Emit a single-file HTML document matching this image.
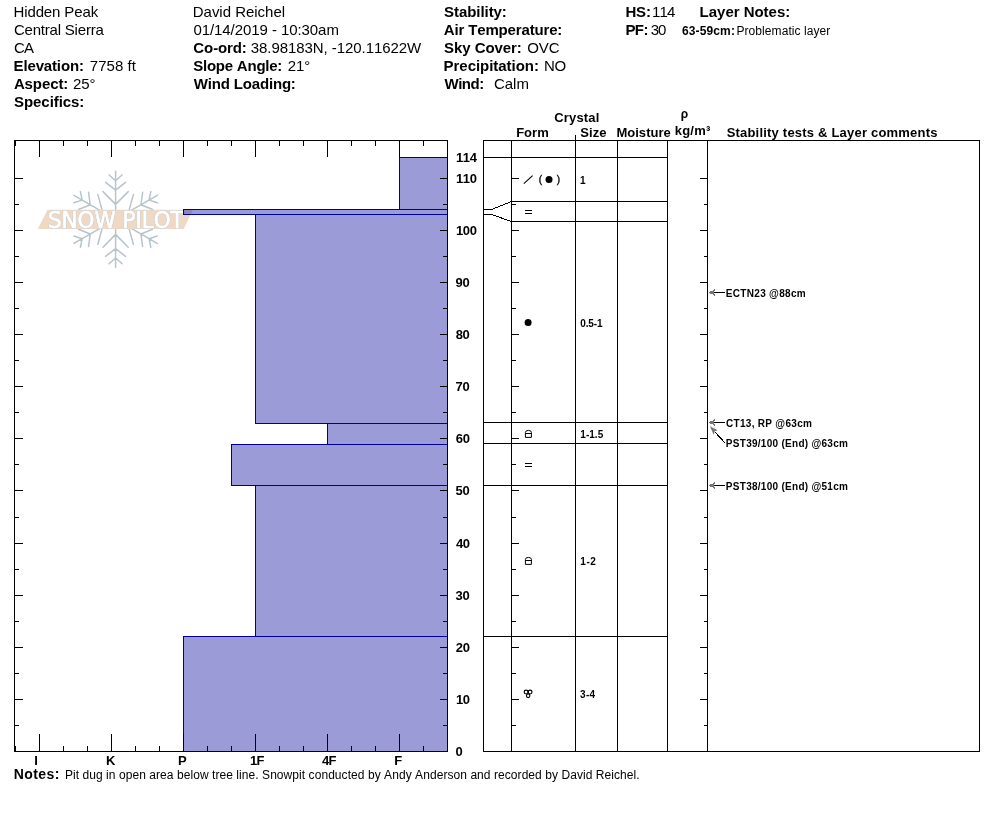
<!DOCTYPE html>
<html lang="en"><head><meta charset="utf-8"><title>Snow Pit Profile - Hidden Peak</title>
<style>html,body{margin:0;padding:0;background:#fff}body{width:994px;height:840px;overflow:hidden}svg{display:block}text{font-family:"Liberation Sans",sans-serif;font-kerning:none}</style></head><body>
<svg width="994" height="840" viewBox="0 0 994 840">
<rect width="994" height="840" fill="#fff"/>
<g>
<g transform="translate(115.6 219.4)" stroke="#b6c4cc" stroke-width="1.5" fill="none" stroke-linecap="round">
<path transform="rotate(0)" d="M0 0 V-48.1 M0 -38.6 L-6.5 -44.4 M0 -38.6 L6.5 -44.4 M0 -29.3 L-10.0 -37.0 M0 -29.3 L10.0 -37.0 M0 -15.0 L-12.6 -27.8 M0 -15.0 L12.6 -27.8"/>
<path transform="rotate(60)" d="M0 0 V-48.1 M0 -38.6 L-6.5 -44.4 M0 -38.6 L6.5 -44.4 M0 -29.3 L-10.0 -37.0 M0 -29.3 L10.0 -37.0 M0 -15.0 L-12.6 -27.8 M0 -15.0 L12.6 -27.8"/>
<path transform="rotate(120)" d="M0 0 V-48.1 M0 -38.6 L-6.5 -44.4 M0 -38.6 L6.5 -44.4 M0 -29.3 L-10.0 -37.0 M0 -29.3 L10.0 -37.0 M0 -15.0 L-12.6 -27.8 M0 -15.0 L12.6 -27.8"/>
<path transform="rotate(180)" d="M0 0 V-48.1 M0 -38.6 L-6.5 -44.4 M0 -38.6 L6.5 -44.4 M0 -29.3 L-10.0 -37.0 M0 -29.3 L10.0 -37.0 M0 -15.0 L-12.6 -27.8 M0 -15.0 L12.6 -27.8"/>
<path transform="rotate(240)" d="M0 0 V-48.1 M0 -38.6 L-6.5 -44.4 M0 -38.6 L6.5 -44.4 M0 -29.3 L-10.0 -37.0 M0 -29.3 L10.0 -37.0 M0 -15.0 L-12.6 -27.8 M0 -15.0 L12.6 -27.8"/>
<path transform="rotate(300)" d="M0 0 V-48.1 M0 -38.6 L-6.5 -44.4 M0 -38.6 L6.5 -44.4 M0 -29.3 L-10.0 -37.0 M0 -29.3 L10.0 -37.0 M0 -15.0 L-12.6 -27.8 M0 -15.0 L12.6 -27.8"/>
</g>
<path d="M47.5 209.7 H193 L183.7 229 H37.8 Z" fill="rgb(240,217,196)"/>
<text x="47.9" y="227.6" font-size="22.8" textLength="135.8" lengthAdjust="spacingAndGlyphs" style="font-family:'DejaVu Sans',sans-serif;fill:#c3ccd3;stroke:#c3ccd3;stroke-width:1.7px">SNOW PILOT</text>
<text x="47.9" y="227.6" font-size="22.8" textLength="135.8" lengthAdjust="spacingAndGlyphs" style="font-family:'DejaVu Sans',sans-serif;fill:#fff;stroke:#fff;stroke-width:0.7px">SNOW PILOT</text>
</g>
<g shape-rendering="crispEdges">
<rect x="399" y="157" width="48" height="52" fill="rgba(0,0,153,0.392)"/>
<rect x="183" y="209" width="264" height="5" fill="rgba(0,0,153,0.392)"/>
<rect x="255" y="214" width="192" height="209" fill="rgba(0,0,153,0.392)"/>
<rect x="327" y="423" width="120" height="21" fill="rgba(0,0,153,0.392)"/>
<rect x="231" y="444" width="216" height="41" fill="rgba(0,0,153,0.392)"/>
<rect x="255" y="485" width="192" height="151" fill="rgba(0,0,153,0.392)"/>
<rect x="183" y="636" width="264" height="115" fill="rgba(0,0,153,0.392)"/>
<rect x="399" y="157" width="48" height="1" fill="rgb(0,0,153)"/>
<rect x="399" y="157" width="1" height="53" fill="rgb(0,0,153)"/>
<rect x="399" y="209" width="48" height="1" fill="rgb(0,0,153)"/>
<rect x="183" y="209" width="264" height="1" fill="rgb(0,0,153)"/>
<rect x="183" y="209" width="1" height="6" fill="rgb(0,0,153)"/>
<rect x="183" y="214" width="264" height="1" fill="rgb(0,0,153)"/>
<rect x="255" y="214" width="192" height="1" fill="rgb(0,0,153)"/>
<rect x="255" y="214" width="1" height="210" fill="rgb(0,0,153)"/>
<rect x="255" y="423" width="192" height="1" fill="rgb(0,0,153)"/>
<rect x="327" y="423" width="120" height="1" fill="rgb(0,0,153)"/>
<rect x="327" y="423" width="1" height="22" fill="rgb(0,0,153)"/>
<rect x="327" y="444" width="120" height="1" fill="rgb(0,0,153)"/>
<rect x="231" y="444" width="216" height="1" fill="rgb(0,0,153)"/>
<rect x="231" y="444" width="1" height="42" fill="rgb(0,0,153)"/>
<rect x="231" y="485" width="216" height="1" fill="rgb(0,0,153)"/>
<rect x="255" y="485" width="192" height="1" fill="rgb(0,0,153)"/>
<rect x="255" y="485" width="1" height="152" fill="rgb(0,0,153)"/>
<rect x="255" y="636" width="192" height="1" fill="rgb(0,0,153)"/>
<rect x="183" y="636" width="264" height="1" fill="rgb(0,0,153)"/>
<rect x="183" y="636" width="1" height="116" fill="rgb(0,0,153)"/>
<rect x="14" y="140" width="434" height="1" fill="#000"/>
<rect x="14" y="751" width="434" height="1" fill="#000"/>
<rect x="14" y="140" width="1" height="612" fill="#000"/>
<rect x="447" y="140" width="1" height="612" fill="#000"/>
<rect x="15" y="141" width="1" height="5" fill="#000"/>
<rect x="15" y="746" width="1" height="5" fill="#000"/>
<rect x="39" y="141" width="1" height="16" fill="#000"/>
<rect x="39" y="734" width="1" height="17" fill="#000"/>
<rect x="63" y="141" width="1" height="5" fill="#000"/>
<rect x="63" y="746" width="1" height="5" fill="#000"/>
<rect x="87" y="141" width="1" height="5" fill="#000"/>
<rect x="87" y="746" width="1" height="5" fill="#000"/>
<rect x="111" y="141" width="1" height="16" fill="#000"/>
<rect x="111" y="734" width="1" height="17" fill="#000"/>
<rect x="135" y="141" width="1" height="5" fill="#000"/>
<rect x="135" y="746" width="1" height="5" fill="#000"/>
<rect x="159" y="141" width="1" height="5" fill="#000"/>
<rect x="159" y="746" width="1" height="5" fill="#000"/>
<rect x="183" y="141" width="1" height="16" fill="#000"/>
<rect x="183" y="734" width="1" height="17" fill="#000"/>
<rect x="207" y="141" width="1" height="5" fill="#000"/>
<rect x="207" y="746" width="1" height="5" fill="#000"/>
<rect x="231" y="141" width="1" height="5" fill="#000"/>
<rect x="231" y="746" width="1" height="5" fill="#000"/>
<rect x="255" y="141" width="1" height="16" fill="#000"/>
<rect x="255" y="734" width="1" height="17" fill="#000"/>
<rect x="279" y="141" width="1" height="5" fill="#000"/>
<rect x="279" y="746" width="1" height="5" fill="#000"/>
<rect x="303" y="141" width="1" height="5" fill="#000"/>
<rect x="303" y="746" width="1" height="5" fill="#000"/>
<rect x="327" y="141" width="1" height="16" fill="#000"/>
<rect x="327" y="734" width="1" height="17" fill="#000"/>
<rect x="351" y="141" width="1" height="5" fill="#000"/>
<rect x="351" y="746" width="1" height="5" fill="#000"/>
<rect x="375" y="141" width="1" height="5" fill="#000"/>
<rect x="375" y="746" width="1" height="5" fill="#000"/>
<rect x="399" y="141" width="1" height="16" fill="#000"/>
<rect x="399" y="734" width="1" height="17" fill="#000"/>
<rect x="423" y="141" width="1" height="5" fill="#000"/>
<rect x="423" y="746" width="1" height="5" fill="#000"/>
<rect x="447" y="141" width="1" height="5" fill="#000"/>
<rect x="447" y="746" width="1" height="5" fill="#000"/>
<rect x="15" y="725" width="4" height="1" fill="#000"/>
<rect x="443" y="725" width="4" height="1" fill="#000"/>
<rect x="512" y="725" width="4" height="1" fill="#000"/>
<rect x="704" y="725" width="3" height="1" fill="#000"/>
<rect x="15" y="699" width="8" height="1" fill="#000"/>
<rect x="440" y="699" width="7" height="1" fill="#000"/>
<rect x="512" y="699" width="7" height="1" fill="#000"/>
<rect x="700" y="699" width="7" height="1" fill="#000"/>
<rect x="15" y="673" width="4" height="1" fill="#000"/>
<rect x="443" y="673" width="4" height="1" fill="#000"/>
<rect x="512" y="673" width="4" height="1" fill="#000"/>
<rect x="704" y="673" width="3" height="1" fill="#000"/>
<rect x="15" y="647" width="8" height="1" fill="#000"/>
<rect x="440" y="647" width="7" height="1" fill="#000"/>
<rect x="512" y="647" width="7" height="1" fill="#000"/>
<rect x="700" y="647" width="7" height="1" fill="#000"/>
<rect x="15" y="621" width="4" height="1" fill="#000"/>
<rect x="443" y="621" width="4" height="1" fill="#000"/>
<rect x="512" y="621" width="4" height="1" fill="#000"/>
<rect x="704" y="621" width="3" height="1" fill="#000"/>
<rect x="15" y="595" width="8" height="1" fill="#000"/>
<rect x="440" y="595" width="7" height="1" fill="#000"/>
<rect x="512" y="595" width="7" height="1" fill="#000"/>
<rect x="700" y="595" width="7" height="1" fill="#000"/>
<rect x="15" y="569" width="4" height="1" fill="#000"/>
<rect x="443" y="569" width="4" height="1" fill="#000"/>
<rect x="512" y="569" width="4" height="1" fill="#000"/>
<rect x="704" y="569" width="3" height="1" fill="#000"/>
<rect x="15" y="543" width="8" height="1" fill="#000"/>
<rect x="440" y="543" width="7" height="1" fill="#000"/>
<rect x="512" y="543" width="7" height="1" fill="#000"/>
<rect x="700" y="543" width="7" height="1" fill="#000"/>
<rect x="15" y="517" width="4" height="1" fill="#000"/>
<rect x="443" y="517" width="4" height="1" fill="#000"/>
<rect x="512" y="517" width="4" height="1" fill="#000"/>
<rect x="704" y="517" width="3" height="1" fill="#000"/>
<rect x="15" y="490" width="8" height="1" fill="#000"/>
<rect x="440" y="490" width="7" height="1" fill="#000"/>
<rect x="512" y="490" width="7" height="1" fill="#000"/>
<rect x="700" y="490" width="7" height="1" fill="#000"/>
<rect x="15" y="464" width="4" height="1" fill="#000"/>
<rect x="443" y="464" width="4" height="1" fill="#000"/>
<rect x="512" y="464" width="4" height="1" fill="#000"/>
<rect x="704" y="464" width="3" height="1" fill="#000"/>
<rect x="15" y="438" width="8" height="1" fill="#000"/>
<rect x="440" y="438" width="7" height="1" fill="#000"/>
<rect x="512" y="438" width="7" height="1" fill="#000"/>
<rect x="700" y="438" width="7" height="1" fill="#000"/>
<rect x="15" y="412" width="4" height="1" fill="#000"/>
<rect x="443" y="412" width="4" height="1" fill="#000"/>
<rect x="512" y="412" width="4" height="1" fill="#000"/>
<rect x="704" y="412" width="3" height="1" fill="#000"/>
<rect x="15" y="386" width="8" height="1" fill="#000"/>
<rect x="440" y="386" width="7" height="1" fill="#000"/>
<rect x="512" y="386" width="7" height="1" fill="#000"/>
<rect x="700" y="386" width="7" height="1" fill="#000"/>
<rect x="15" y="360" width="4" height="1" fill="#000"/>
<rect x="443" y="360" width="4" height="1" fill="#000"/>
<rect x="512" y="360" width="4" height="1" fill="#000"/>
<rect x="704" y="360" width="3" height="1" fill="#000"/>
<rect x="15" y="334" width="8" height="1" fill="#000"/>
<rect x="440" y="334" width="7" height="1" fill="#000"/>
<rect x="512" y="334" width="7" height="1" fill="#000"/>
<rect x="700" y="334" width="7" height="1" fill="#000"/>
<rect x="15" y="308" width="4" height="1" fill="#000"/>
<rect x="443" y="308" width="4" height="1" fill="#000"/>
<rect x="512" y="308" width="4" height="1" fill="#000"/>
<rect x="704" y="308" width="3" height="1" fill="#000"/>
<rect x="15" y="282" width="8" height="1" fill="#000"/>
<rect x="440" y="282" width="7" height="1" fill="#000"/>
<rect x="512" y="282" width="7" height="1" fill="#000"/>
<rect x="700" y="282" width="7" height="1" fill="#000"/>
<rect x="15" y="256" width="4" height="1" fill="#000"/>
<rect x="443" y="256" width="4" height="1" fill="#000"/>
<rect x="512" y="256" width="4" height="1" fill="#000"/>
<rect x="704" y="256" width="3" height="1" fill="#000"/>
<rect x="15" y="230" width="8" height="1" fill="#000"/>
<rect x="440" y="230" width="7" height="1" fill="#000"/>
<rect x="512" y="230" width="7" height="1" fill="#000"/>
<rect x="700" y="230" width="7" height="1" fill="#000"/>
<rect x="15" y="204" width="4" height="1" fill="#000"/>
<rect x="443" y="204" width="4" height="1" fill="#000"/>
<rect x="512" y="204" width="4" height="1" fill="#000"/>
<rect x="704" y="204" width="3" height="1" fill="#000"/>
<rect x="15" y="178" width="8" height="1" fill="#000"/>
<rect x="440" y="178" width="7" height="1" fill="#000"/>
<rect x="512" y="178" width="7" height="1" fill="#000"/>
<rect x="700" y="178" width="7" height="1" fill="#000"/>
<rect x="440" y="157" width="7" height="1" fill="#000"/>
<rect x="483" y="140" width="497" height="1" fill="#000"/>
<rect x="483" y="751" width="497" height="1" fill="#000"/>
<rect x="483" y="140" width="1" height="612" fill="#000"/>
<rect x="979" y="140" width="1" height="612" fill="#000"/>
<rect x="511" y="140" width="1" height="612" fill="#000"/>
<rect x="575" y="135" width="1" height="617" fill="#000"/>
<rect x="617" y="140" width="1" height="612" fill="#000"/>
<rect x="667" y="140" width="1" height="612" fill="#000"/>
<rect x="707" y="140" width="1" height="612" fill="#000"/>
<rect x="483" y="157" width="185" height="1" fill="#000"/>
<rect x="511" y="201" width="157" height="1" fill="#000"/>
<rect x="511" y="221" width="157" height="1" fill="#000"/>
<rect x="483" y="422" width="185" height="1" fill="#000"/>
<rect x="483" y="443" width="185" height="1" fill="#000"/>
<rect x="483" y="485" width="185" height="1" fill="#000"/>
<rect x="483" y="636" width="185" height="1" fill="#000"/>
<rect x="483" y="209" width="9" height="1" fill="#000"/>
<rect x="483" y="214" width="9" height="1" fill="#000"/>
<path d="M491.6 209.5 L511.5 201.5 M491.6 214.5 L511.5 221.5" stroke="#000" stroke-width="1" fill="none" shape-rendering="crispEdges"/>
</g>
<g>
<path d="M523.8 183.6 L532.6 175.7" stroke="#000" stroke-width="1.1" fill="none"/>
<circle cx="549.0" cy="179.45" r="3.5" fill="#000"/>
<rect x="525" y="210" width="7" height="1" fill="#000"/><rect x="525" y="213" width="7" height="1" fill="#000"/>
<rect x="525" y="463" width="7" height="1" fill="#000"/><rect x="525" y="466" width="7" height="1" fill="#000"/>
<circle cx="528.1" cy="322.5" r="3.5" fill="#000"/>
<path d="M525.4 437.4 V432.5 Q525.4 430.4 528.4 430.4 Q531.4 430.4 531.4 432.5 V437.4 Z M525.4 433.5 H531.4" stroke="#000" stroke-width="1" fill="none"/>
<path d="M525.4 564.4 V559.5 Q525.4 557.4 528.4 557.4 Q531.4 557.4 531.4 559.5 V564.4 Z M525.4 560.5 H531.4" stroke="#000" stroke-width="1" fill="none"/>
<g stroke="#000" stroke-width="1.15" fill="none"><circle cx="526.1" cy="692.1" r="1.9"/><circle cx="530.1" cy="692.1" r="1.9"/><ellipse cx="528.15" cy="695.8" rx="1.7" ry="1.85"/></g>
<g shape-rendering="crispEdges">
<rect x="714" y="292" width="11" height="1" fill="#000"/>
<rect x="709" y="292" width="5" height="1" fill="#767676"/>
<rect x="710" y="291" width="4" height="1" fill="#767676"/>
<rect x="710" y="293" width="4" height="1" fill="#767676"/>
<rect x="714" y="289" width="1" height="1" fill="#767676"/>
<rect x="713" y="290" width="2" height="1" fill="#767676"/>
<rect x="713" y="294" width="2" height="1" fill="#767676"/>
<rect x="714" y="295" width="1" height="1" fill="#767676"/>
<rect x="714" y="422" width="11" height="1" fill="#000"/>
<rect x="709" y="422" width="5" height="1" fill="#767676"/>
<rect x="710" y="421" width="4" height="1" fill="#767676"/>
<rect x="710" y="423" width="4" height="1" fill="#767676"/>
<rect x="714" y="419" width="1" height="1" fill="#767676"/>
<rect x="713" y="420" width="2" height="1" fill="#767676"/>
<rect x="713" y="424" width="2" height="1" fill="#767676"/>
<rect x="714" y="425" width="1" height="1" fill="#767676"/>
<rect x="714" y="485" width="11" height="1" fill="#000"/>
<rect x="709" y="485" width="5" height="1" fill="#767676"/>
<rect x="710" y="484" width="4" height="1" fill="#767676"/>
<rect x="710" y="486" width="4" height="1" fill="#767676"/>
<rect x="714" y="482" width="1" height="1" fill="#767676"/>
<rect x="713" y="483" width="2" height="1" fill="#767676"/>
<rect x="713" y="487" width="2" height="1" fill="#767676"/>
<rect x="714" y="488" width="1" height="1" fill="#767676"/>
</g>
<path d="M724.9 442.8 L714.6 431.6" stroke="#000" stroke-width="1" fill="none" shape-rendering="crispEdges"/>
<path d="M710 426.2 L717.7 430.2 L714.7 431.3 L713.6 434.8 Z" fill="#767676"/>
</g>
<g>
<text x="13.54" y="17.00" font-size="15" letter-spacing="-0.129">Hidden Peak</text>
<text x="13.94" y="35.00" font-size="15" letter-spacing="-0.205">Central Sierra</text>
<text x="13.94" y="53.00" font-size="15" letter-spacing="-0.844">CA</text>
<text x="13.61" y="71.00" font-size="15" font-weight="bold" letter-spacing="-0.155">Elevation:</text>
<text x="89.85" y="71.00" font-size="15" letter-spacing="0.033">7758 ft</text>
<text x="13.88" y="89.00" font-size="15" font-weight="bold" letter-spacing="-0.092">Aspect:</text>
<text x="72.92" y="89.00" font-size="15" letter-spacing="-0.092">25°</text>
<text x="14.06" y="107.00" font-size="15" font-weight="bold" letter-spacing="-0.061">Specifics:</text>
<text x="192.75" y="17.00" font-size="15" letter-spacing="-0.021">David Reichel</text>
<text x="193.41" y="35.00" font-size="15" letter-spacing="-0.068">01/14/2019 - 10:30am</text>
<text x="193.37" y="53.00" font-size="15" font-weight="bold" letter-spacing="-0.108">Co-ord:</text>
<text x="250.78" y="53.00" font-size="15" letter-spacing="-0.062">38.98183N, -120.11622W</text>
<text x="193.23" y="71.00" font-size="15" font-weight="bold" letter-spacing="-0.230">Slope Angle:</text>
<text x="287.63" y="71.00" font-size="15" letter-spacing="-0.020">21°</text>
<text x="193.87" y="89.00" font-size="15" font-weight="bold" letter-spacing="-0.178">Wind Loading:</text>
<text x="444.06" y="17.00" font-size="15" font-weight="bold" letter-spacing="-0.059">Stability:</text>
<text x="443.85" y="35.00" font-size="15" font-weight="bold" letter-spacing="-0.156">Air Temperature:</text>
<text x="444.06" y="53.00" font-size="15" font-weight="bold" letter-spacing="-0.062">Sky Cover:</text>
<text x="527.32" y="53.00" font-size="15" letter-spacing="-0.112">OVC</text>
<text x="443.61" y="71.00" font-size="15" font-weight="bold" letter-spacing="-0.044">Precipitation:</text>
<text x="544.12" y="71.00" font-size="15" letter-spacing="-0.488">NO</text>
<text x="444.48" y="89.00" font-size="15" font-weight="bold" letter-spacing="-0.479">Wind:</text>
<text x="493.94" y="89.00" font-size="15" letter-spacing="-0.010">Calm</text>
<text x="625.41" y="17.00" font-size="15" font-weight="bold" letter-spacing="-0.183">HS:</text>
<text x="651.92" y="17.00" font-size="15" letter-spacing="-0.849">114</text>
<text x="625.41" y="35.00" font-size="15" font-weight="bold" letter-spacing="-0.597">PF:</text>
<text x="650.78" y="35.00" font-size="15" letter-spacing="-1.211">30</text>
<text x="699.61" y="17.00" font-size="15" font-weight="bold" letter-spacing="-0.023">Layer Notes:</text>
<text x="682.00" y="35.00" font-size="12" font-weight="bold" letter-spacing="0.120">63-59cm:</text>
<text x="736.49" y="35.00" font-size="12" letter-spacing="0.067">Problematic layer</text>
<text x="554.18" y="122.00" font-size="13" font-weight="bold" letter-spacing="0.178">Crystal</text>
<text x="516.17" y="137.00" font-size="13" font-weight="bold" letter-spacing="0.012">Form</text>
<text x="580.21" y="137.00" font-size="13" font-weight="bold" letter-spacing="0.100">Size</text>
<text x="616.39" y="137.00" font-size="13" font-weight="bold" letter-spacing="0.039">Moisture</text>
<text x="680.83" y="118.00" font-size="12" font-weight="bold">ρ</text>
<text x="674.79" y="135.00" font-size="13" font-weight="bold" letter-spacing="0.208">kg/m³</text>
<text x="726.64" y="137.00" font-size="13" font-weight="bold" letter-spacing="0.204">Stability tests &amp; Layer comments</text>
<text x="34.30" y="765.00" font-size="13" font-weight="bold">I</text>
<text x="105.92" y="765.00" font-size="13" font-weight="bold">K</text>
<text x="177.96" y="765.00" font-size="13" font-weight="bold">P</text>
<text x="249.89" y="765.00" font-size="13" font-weight="bold" letter-spacing="-0.519">1F</text>
<text x="321.89" y="765.00" font-size="13" font-weight="bold" letter-spacing="-0.582">4F</text>
<text x="394.13" y="765.00" font-size="13" font-weight="bold">F</text>
<text x="13.68" y="779.00" font-size="14" font-weight="bold" letter-spacing="0.441">Notes:</text>
<text x="64.93" y="779.00" font-size="12" letter-spacing="0.062">Pit dug in open area below tree line. Snowpit conducted by Andy Anderson and recorded by David Reichel.</text>
<text x="579.93" y="184.00" font-size="10" font-weight="bold">1</text>
<text x="580.30" y="327.00" font-size="10" font-weight="bold" letter-spacing="-0.155">0.5-1</text>
<text x="580.35" y="438.00" font-size="10" font-weight="bold" letter-spacing="0.024">1-1.5</text>
<text x="580.35" y="565.00" font-size="10" font-weight="bold" letter-spacing="0.493">1-2</text>
<text x="580.04" y="698.00" font-size="10" font-weight="bold" letter-spacing="0.287">3-4</text>
<text x="725.87" y="297.00" font-size="10" font-weight="bold" letter-spacing="0.304">ECTN23 @88cm</text>
<text x="726.00" y="427.00" font-size="10" font-weight="bold" letter-spacing="0.298">CT13, RP @63cm</text>
<text x="725.87" y="447.00" font-size="10" font-weight="bold" letter-spacing="0.277">PST39/100 (End) @63cm</text>
<text x="725.87" y="490.00" font-size="10" font-weight="bold" letter-spacing="0.277">PST38/100 (End) @51cm</text>
<text x="538.77" y="183.00" font-size="10" stroke="#000" stroke-width="0.35">(</text>
<text x="556.81" y="183.00" font-size="10" stroke="#000" stroke-width="0.35">)</text>
<text x="455.89" y="162.00" font-size="13" font-weight="bold" letter-spacing="-0.230">114</text>
<text x="455.89" y="183.00" font-size="13" font-weight="bold" letter-spacing="-0.230">110</text>
<text x="455.89" y="235.00" font-size="13" font-weight="bold" letter-spacing="-0.230">100</text>
<text x="455.57" y="287.00" font-size="13" font-weight="bold" letter-spacing="-0.230">90</text>
<text x="455.64" y="339.00" font-size="13" font-weight="bold" letter-spacing="-0.230">80</text>
<text x="455.59" y="391.00" font-size="13" font-weight="bold" letter-spacing="-0.230">70</text>
<text x="455.69" y="443.00" font-size="13" font-weight="bold" letter-spacing="-0.230">60</text>
<text x="455.52" y="495.00" font-size="13" font-weight="bold" letter-spacing="-0.230">50</text>
<text x="455.89" y="548.00" font-size="13" font-weight="bold" letter-spacing="-0.230">40</text>
<text x="455.44" y="600.00" font-size="13" font-weight="bold" letter-spacing="-0.230">30</text>
<text x="455.66" y="652.00" font-size="13" font-weight="bold" letter-spacing="-0.230">20</text>
<text x="455.89" y="704.00" font-size="13" font-weight="bold" letter-spacing="-0.230">10</text>
<text x="455.56" y="756.00" font-size="13" font-weight="bold" letter-spacing="-0.230">0</text>
</g>
</svg></body></html>
